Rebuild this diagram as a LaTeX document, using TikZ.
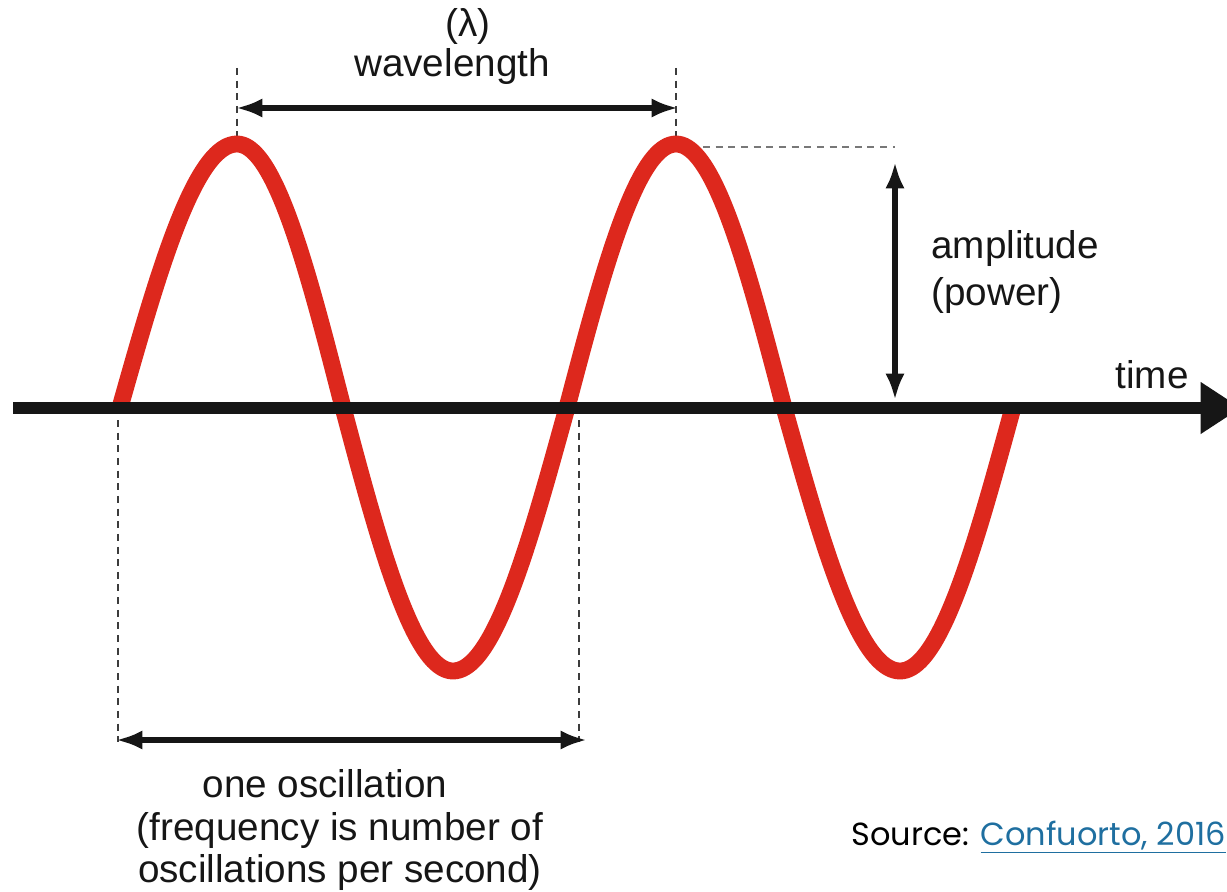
\documentclass[tikz,border=0pt]{standalone}
\usepackage{fontspec}
\setmainfont{Liberation Sans}
\newfontfamily\srcfont{Poppins}
\usetikzlibrary{arrows.meta}
\definecolor{wavered}{RGB}{221,40,29}
\definecolor{ink}{RGB}{22,22,22}
\definecolor{linkblue}{RGB}{31,111,160}
\definecolor{dashdark}{RGB}{60,60,60}
\definecolor{dashlight}{RGB}{120,120,120}
\begin{document}
\begin{tikzpicture}[x=0.02cm,y=-0.02cm,
  lbl/.style={font=\fontsize{22}{26}\selectfont, text=ink, inner sep=0pt},
  dimarrow/.style={ink, line width=3.2pt, {Latex[length=15pt,width=11pt]}-{Latex[length=15pt,width=11pt]}},
  guide/.style={dashdark, line width=1.1pt, dash pattern=on 4pt off 3.2pt},
  wave/.style={wavered, line width=9.6pt, line join=round},
  axis/.style={ink, line width=6.6pt, -{Triangle[length=23pt,width=28pt]}}]
\useasboundingbox (0,0) rectangle (1227,892);

% guides
\coordinate (gLt) at (237,68);  \coordinate (gLb) at (237,140);
\coordinate (gRt) at (676,68);  \coordinate (gRb) at (676,140);
\coordinate (gAl) at (703,147); \coordinate (gAr) at (895,147);
\coordinate (gBLt) at (118,420); \coordinate (gBLb) at (118,742);
\coordinate (gBRt) at (579,420); \coordinate (gBRb) at (579,742);
\draw[guide] (gLt) -- (gLb);
\draw[guide] (gRt) -- (gRb);
\draw[guide, dashlight] (gAl) -- (gAr);
\draw[guide] (gBLt) -- (gBLb);
\draw[guide] (gBRt) -- (gBRb);

% wave
\draw[wave]
  plot[domain=120:237, samples=40, smooth] (\x, {407.5-263.5*sin(90*(\x-120)/117)})
  -- plot[domain=237:343, samples=40, smooth] (\x, {407.5-263.5*cos(90*(\x-237)/106)})
  -- plot[domain=343:453, samples=40, smooth] (\x, {407.5+263.5*sin(90*(\x-343)/110)})
  -- plot[domain=453:567, samples=40, smooth] (\x, {407.5+263.5*cos(90*(\x-453)/114)})
  -- plot[domain=567:676, samples=40, smooth] (\x, {407.5-263.5*sin(90*(\x-567)/109)})
  -- plot[domain=676:784, samples=40, smooth] (\x, {407.5-263.5*cos(90*(\x-676)/108)})
  -- plot[domain=784:900, samples=40, smooth] (\x, {407.5+263.5*sin(90*(\x-784)/116)})
  -- plot[domain=900:1013, samples=40, smooth] (\x, {407.5+263.5*cos(90*(\x-900)/113)});

% axis
\coordinate (axS) at (13,408);
\coordinate (axE) at (1241,408);
\draw[axis] (axS) -- (axE);

% dimension arrows
\coordinate (wlL) at (236,108); \coordinate (wlR) at (678,108);
\draw[dimarrow] (wlL) -- (wlR);
\coordinate (ampT) at (895,162); \coordinate (ampB) at (895,400);
\draw[dimarrow] (ampT) -- (ampB);
\coordinate (osL) at (116,740); \coordinate (osR) at (587,740);
\draw[dimarrow] (osL) -- (osR);

% labels
\node[lbl, anchor=base] (lam) at (468,37) {(λ)};
\node[lbl, anchor=base] (wl) at (452,77) {wavelength};
\node[lbl, anchor=base west] (amp) at (931,258) {amplitude};
\node[lbl, anchor=base west] (pow) at (931,305) {(power)};
\node[lbl, anchor=base east] (time) at (1189,388) {time};
\node[lbl, anchor=base] (one) at (325,797) {one oscillation};
\node[lbl, anchor=base] (freq) at (340,840) {(frequency is number of};
\node[lbl, anchor=base] (osc) at (340,882) {oscillations per second)};
\node[anchor=base east, inner sep=0pt, font=\srcfont\fontsize{18.2}{21}\selectfont] (src) at (1226,845)
  {Source: \textcolor{linkblue}{\underline{Confuorto, 2016}}};
\end{tikzpicture}
\end{document}
